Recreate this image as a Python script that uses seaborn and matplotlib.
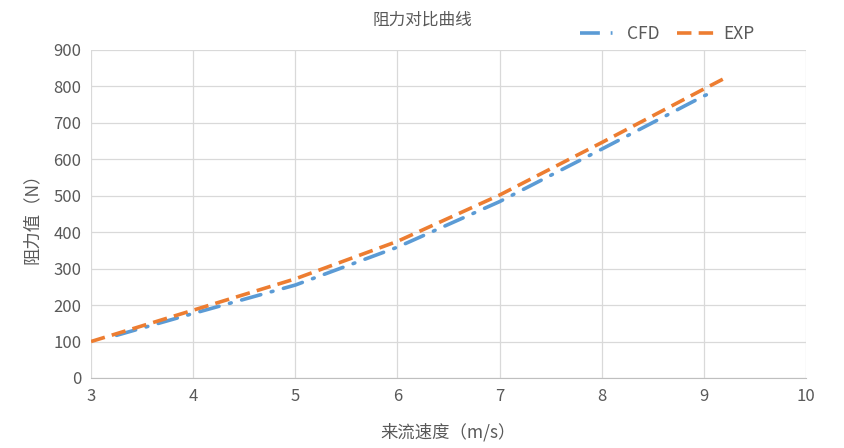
import pandas as pd
import matplotlib.pyplot as plt
import seaborn as sns
from matplotlib.lines import Line2D

cfd_speed = [3.25, 4, 5, 6, 7, 8, 9, 9.1]
cfd_drag = [117, 177, 255, 359, 484, 628, 774, 786]
exp_speed = [3, 4, 5, 6, 7, 8, 9, 9.2]
exp_drag = [100, 186, 272, 375, 502, 646, 793, 822]

df = pd.concat([
    pd.DataFrame({'speed': cfd_speed, 'drag': cfd_drag, 'series': 'CFD'}),
    pd.DataFrame({'speed': exp_speed, 'drag': exp_drag, 'series': 'EXP'}),
])

sns.set_style("white")
plt.rcParams['font.family'] = ['Noto Sans CJK SC', 'DejaVu Sans']

fig = plt.figure(figsize=(8.45, 4.48), dpi=100)
ax = fig.add_axes([0.1077, 0.1563, 0.8462, 0.7321])

palette = {'CFD': '#5B9BD5', 'EXP': '#ED7D31'}
ax = sns.lineplot(data=df, x='speed', y='drag', hue='series', palette=palette,
                  linewidth=2.6, ax=ax, legend=False, sort=False)
ax.lines[0].set_dashes([5.5, 3, 0.5, 3])
ax.lines[0].set_dash_capstyle('round')
ax.lines[1].set_dashes([4, 2])

ax.set_xlim(3, 10)
ax.set_ylim(0, 900)
ax.set_xticks(range(3, 11))
ax.set_yticks(range(0, 901, 100))
ax.grid(True, color='#D9D9D9', linewidth=0.9)
ax.set_axisbelow(True)
for s in ['top', 'right', 'left']:
    ax.spines[s].set_visible(False)
ax.spines['bottom'].set_color('#BFBFBF')
ax.tick_params(colors='#595959', labelsize=12, length=0, pad=7)

ax.set_xlabel('来流速度（m/s）', color='#595959', fontsize=12.5, labelpad=13)
ax.set_ylabel('阻力值（N）', color='#595959', fontsize=12.5, labelpad=9)
fig.text(0.5, 0.955, '阻力对比曲线', ha='center', va='center', color='#595959', fontsize=12)

h1 = Line2D([], [], color='#5B9BD5', linewidth=2.6, dashes=[5.5, 3, 0.5, 3])
h2 = Line2D([], [], color='#ED7D31', linewidth=2.6, dashes=[4, 2])
fig.legend([h1, h2], ['CFD', 'EXP'], loc='center', bbox_to_anchor=(0.79, 0.925),
           ncol=2, frameon=False, fontsize=12.5, labelcolor='#595959',
           handlelength=2.4, columnspacing=1.0, handletextpad=0.3)

fig.savefig('out.png', dpi=100)
